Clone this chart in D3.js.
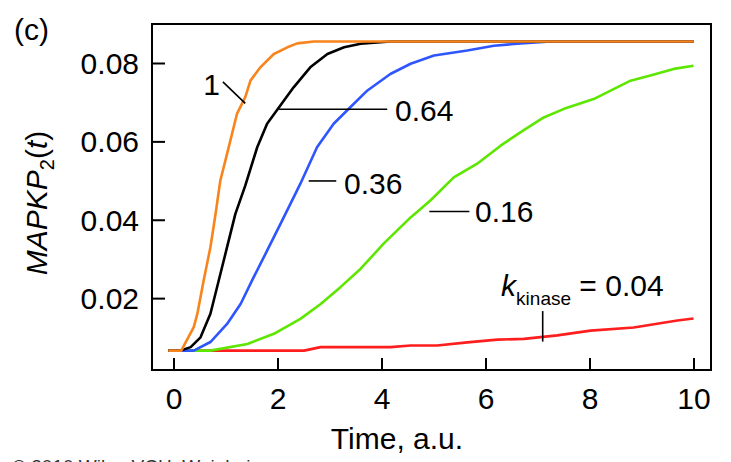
<!DOCTYPE html>
<html>
<head>
<meta charset="utf-8">
<script src="https://cdn.jsdelivr.net/npm/d3@7"></script>
<style>
  body { margin: 0; background: #fff; }
  svg text { font-family: "Liberation Sans", Arial, Helvetica, sans-serif; fill: #000; }
</style>
</head>
<body>
<svg id="chart" width="731" height="462"></svg>
<script>
// curves: [time, MAPKP2]
const kinase1 = [[-0.1,0.0066],[0.15,0.0066],[0.2,0.0079],[0.39,0.0126],[0.46,0.0161],[0.58,0.0245],[0.71,0.033],[0.81,0.0416],[0.9,0.05],[1.03,0.0568],[1.22,0.067],[1.38,0.0713],[1.48,0.0755],[1.67,0.0789],[1.93,0.0823],[2.19,0.084],[2.38,0.085],[2.7,0.0855],[10,0.0855]];
const kinase064 = [[-0.1,0.0066],[0.13,0.0066],[0.33,0.0075],[0.52,0.01],[0.71,0.016],[0.87,0.0245],[1.03,0.033],[1.19,0.0415],[1.38,0.0487],[1.61,0.0585],[1.8,0.0645],[2.03,0.0687],[2.31,0.0738],[2.63,0.0789],[2.96,0.0823],[3.28,0.084],[3.6,0.0849],[4.17,0.0855],[10,0.0855]];
const kinase036 = [[-0.1,0.0066],[0.39,0.0066],[0.71,0.0088],[1.03,0.0134],[1.29,0.0185],[1.54,0.0253],[1.8,0.0321],[2.06,0.039],[2.31,0.0457],[2.44,0.0492],[2.76,0.0585],[3.08,0.0645],[3.4,0.0687],[3.73,0.073],[4.17,0.0772],[4.56,0.0798],[5.01,0.0819],[5.65,0.0832],[6.16,0.0844],[6.61,0.0849],[7.25,0.0855],[10,0.0855]];
const kinase016 = [[-0.1,0.0066],[0.71,0.0066],[1.42,0.0083],[1.93,0.0109],[2.44,0.0147],[2.83,0.0185],[3.21,0.0228],[3.6,0.0275],[4.04,0.0339],[4.56,0.0406],[4.94,0.0449],[5.39,0.0508],[5.84,0.0543],[6.29,0.0589],[6.67,0.0623],[7.12,0.0661],[7.51,0.0683],[8.08,0.0708],[8.79,0.0755],[9.17,0.0768],[9.62,0.0785],[10,0.0793]];
const kinase004 = [[-0.1,0.0066],[2.51,0.0066],[2.83,0.0075],[4.17,0.0075],[4.56,0.0079],[5.07,0.0079],[5.65,0.0087],[6.23,0.0094],[6.74,0.0096],[7.38,0.0105],[8.02,0.0117],[8.85,0.0125],[9.69,0.0143],[10,0.0148]];

const seriesOrder = [kinase004, kinase016, kinase036, kinase064, kinase1];
const seriesColors = ["#ff1e1e", "#5de600", "#2f55ff", "#000000", "#f7841c"];

const xTicks = [0, 2, 4, 6, 8, 10];
const yTicks = [0.02, 0.04, 0.06, 0.08];

const svg = d3.select("#chart");

// plot frame
const frame = { left: 152, right: 711, top: 24, bottom: 370 };

const x = d3.scaleLinear().domain([0, 10]).range([173.5, 693.5]);
const y = d3.scaleLinear().domain([0, 0.08]).range([376.5, 63]);

svg.append("rect")
  .attr("x", frame.left).attr("y", frame.top)
  .attr("width", frame.right - frame.left).attr("height", frame.bottom - frame.top)
  .attr("fill", "none").attr("stroke", "#000").attr("stroke-width", 2);

// axes, ticks pointing inward
const xAxis = svg.append("g")
  .attr("transform", `translate(0,${frame.bottom})`)
  .call(d3.axisBottom(x).tickValues(xTicks).tickFormat(d3.format("d"))
    .tickSizeInner(-12).tickSizeOuter(0).tickPadding(18));
const yAxis = svg.append("g")
  .attr("transform", `translate(${frame.left},0)`)
  .call(d3.axisLeft(y).tickValues(yTicks).tickFormat(d3.format(".2f"))
    .tickSizeInner(-13).tickSizeOuter(0).tickPadding(13));

[xAxis, yAxis].forEach(g => {
  g.select(".domain").remove();
  g.selectAll(".tick line").attr("stroke", "#000").attr("stroke-width", 2);
  g.selectAll(".tick text").attr("font-size", 30).attr("fill", "#000");
});
yAxis.selectAll(".tick text").attr("dy", "0.35em");

// curves
const line = d3.line().x(d => x(d[0])).y(d => y(d[1]));
svg.append("g")
  .selectAll("path")
  .data(seriesOrder)
  .join("path")
  .attr("d", line)
  .attr("fill", "none")
  .attr("stroke", (d, i) => seriesColors[i])
  .attr("stroke-width", 2.6)
  .attr("stroke-linejoin", "round");

// leader lines (data space)
const leaders = [
  [[0.95, 0.0752], [1.38, 0.0697]],
  [[2.03, 0.0682], [4.11, 0.0682]],
  [[2.6, 0.0499], [3.13, 0.0499]],
  [[4.92, 0.0421], [5.69, 0.0421]],
  [[7.1, 0.0167], [7.1, 0.0089]]
];
svg.append("g")
  .selectAll("line")
  .data(leaders)
  .join("line")
  .attr("x1", d => x(d[0][0])).attr("y1", d => y(d[0][1]))
  .attr("x2", d => x(d[1][0])).attr("y2", d => y(d[1][1]))
  .attr("stroke", "#000").attr("stroke-width", 1.6);

// curve labels
const labels = [
  { t: 0.57, v: 0.0719, text: "1" },
  { t: 4.26, v: 0.0652, text: "0.64" },
  { t: 3.28, v: 0.0465, text: "0.36" },
  { t: 5.8, v: 0.0395, text: "0.16" }
];
svg.append("g")
  .selectAll("text")
  .data(labels)
  .join("text")
  .attr("x", d => x(d.t)).attr("y", d => y(d.v))
  .attr("font-size", 30)
  .text(d => d.text);

const kLabel = svg.append("text")
  .attr("x", x(6.3)).attr("y", y(0.0205))
  .attr("font-size", 30);
kLabel.append("tspan").attr("font-style", "italic").text("k");
kLabel.append("tspan").attr("font-size", 19).attr("dy", 9).text("kinase");
kLabel.append("tspan").attr("dy", -9).text("\u00a0= 0.04");

// titles
svg.append("text")
  .attr("x", 14).attr("y", 40)
  .attr("font-size", 30)
  .text("(c)");

svg.append("text")
  .attr("x", 397).attr("y", 449)
  .attr("text-anchor", "middle")
  .attr("font-size", 30)
  .text("Time, a.u.");

const yLabel = svg.append("text")
  .attr("transform", "translate(47,203) rotate(-90)")
  .attr("text-anchor", "middle")
  .attr("font-size", 30);
yLabel.append("tspan").attr("font-style", "italic").text("MAPKP");
yLabel.append("tspan").attr("font-size", 20).attr("dy", 7).text("2");
yLabel.append("tspan").attr("dy", -7).text("(");
yLabel.append("tspan").attr("font-style", "italic").text("t");
yLabel.append("tspan").text(")");

// credit line, cut by the bottom edge as in the source
svg.append("text")
  .attr("x", 12).attr("y", 472.5)
  .attr("font-size", 19)
  .style("fill", "#333")
  .text("\u00a9 2010 Wiley-VCH, Weinheim");
</script>
</body>
</html>
